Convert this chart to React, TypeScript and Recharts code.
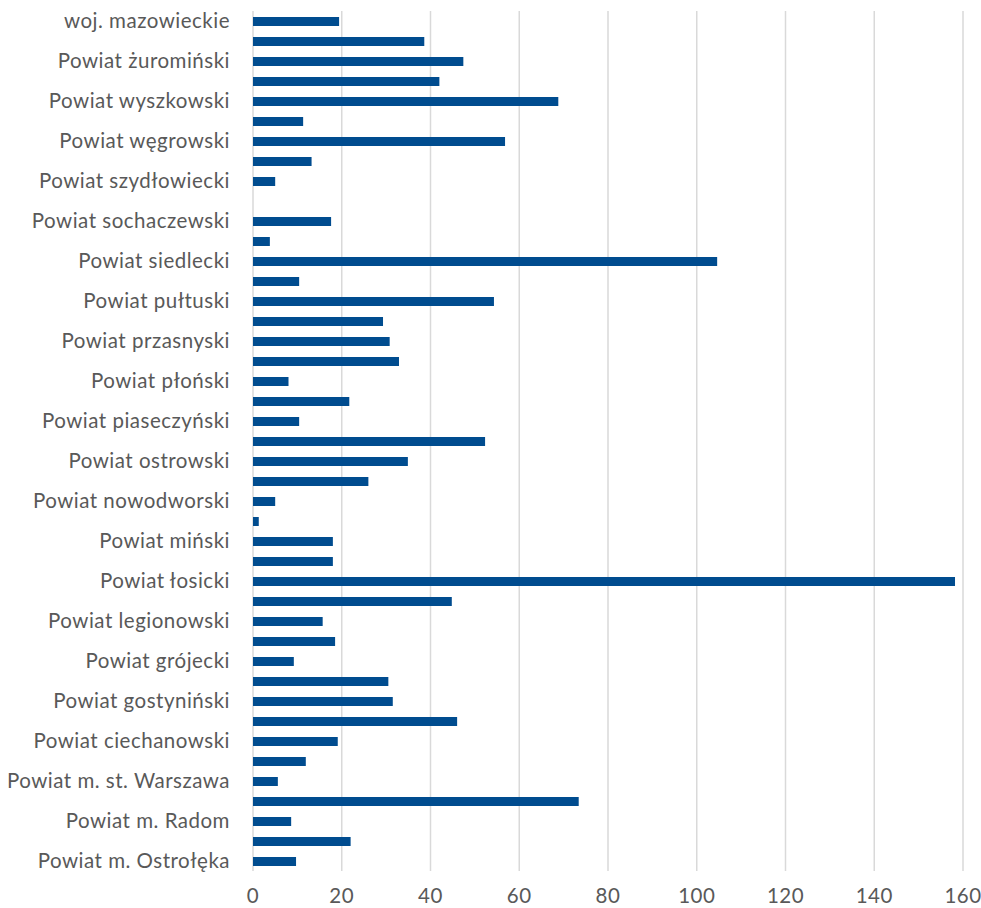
import { BarChart, Bar, XAxis, YAxis, CartesianGrid } from "recharts";

// Powiaty, listed top to bottom as they appear on the axis
const regions = [
  "woj. mazowieckie",
  "Powiat żyrardowski",
  "Powiat żuromiński",
  "Powiat zwoleński",
  "Powiat wyszkowski",
  "Powiat wołomiński",
  "Powiat węgrowski",
  "Powiat warszawski zachodni",
  "Powiat szydłowiecki",
  "Powiat sokołowski",
  "Powiat sochaczewski",
  "Powiat sierpecki",
  "Powiat siedlecki",
  "Powiat radomski",
  "Powiat pułtuski",
  "Powiat przysuski",
  "Powiat przasnyski",
  "Powiat pruszkowski",
  "Powiat płoński",
  "Powiat płocki",
  "Powiat piaseczyński",
  "Powiat otwocki",
  "Powiat ostrowski",
  "Powiat ostrołęcki",
  "Powiat nowodworski",
  "Powiat mławski",
  "Powiat miński",
  "Powiat makowski",
  "Powiat łosicki",
  "Powiat lipski",
  "Powiat legionowski",
  "Powiat kozienicki",
  "Powiat grójecki",
  "Powiat grodziski",
  "Powiat gostyniński",
  "Powiat garwoliński",
  "Powiat ciechanowski",
  "Powiat białobrzeski",
  "Powiat m. st. Warszawa",
  "Powiat m. Siedlce",
  "Powiat m. Radom",
  "Powiat m. Płock",
  "Powiat m. Ostrołęka",
];

const values: (number | null)[] = [
  19.4, 38.6, 47.4, 42.0, 68.8, 11.3, 56.8, 13.2, 5.0, null,
  17.6, 3.8, 104.6, 10.4, 54.3, 29.3, 30.8, 32.9, 8.0, 21.7,
  10.4, 52.3, 34.9, 26.0, 5.0, 1.3, 18.0, 18.0, 158.2, 44.8,
  15.7, 18.5, 9.2, 30.5, 31.5, 46.0, 19.1, 11.9, 5.6, 73.4,
  8.6, 22.0, 9.7,
];

const xTicks = [0, 20, 40, 60, 80, 100, 120, 140, 160];

const data = regions.map((name, i) => ({ name, value: values[i] }));

const FONT = "Lato, 'Noto Sans', sans-serif";
const tickStyle = { fill: "#595959", fontSize: 20.5, fontFamily: FONT, letterSpacing: 0.5 };

export default function App() {
  return (
    <div style={{ position: "absolute", left: 0, top: 0, background: "#fff" }}>
      <BarChart
        width={981}
        height={908}
        data={data}
        layout="vertical"
        margin={{ top: 11, right: 18, bottom: 7, left: 0 }}
        barSize={9}
      >
        <CartesianGrid horizontal={false} stroke="#d9d9d9" strokeWidth={1.5} />
        <XAxis
          type="number"
          domain={[0, 160]}
          ticks={xTicks}
          axisLine={false}
          tickLine={false}
          height={30}
          tickMargin={11}
          tick={tickStyle}
        />
        <YAxis
          type="category"
          dataKey="name"
          width={253}
          interval={1}
          axisLine={false}
          tickLine={false}
          tickSize={0}
          tickMargin={23}
          tick={tickStyle}
        />
        <Bar dataKey="value" fill="#004C8F" isAnimationActive={false} />
      </BarChart>
    </div>
  );
}
